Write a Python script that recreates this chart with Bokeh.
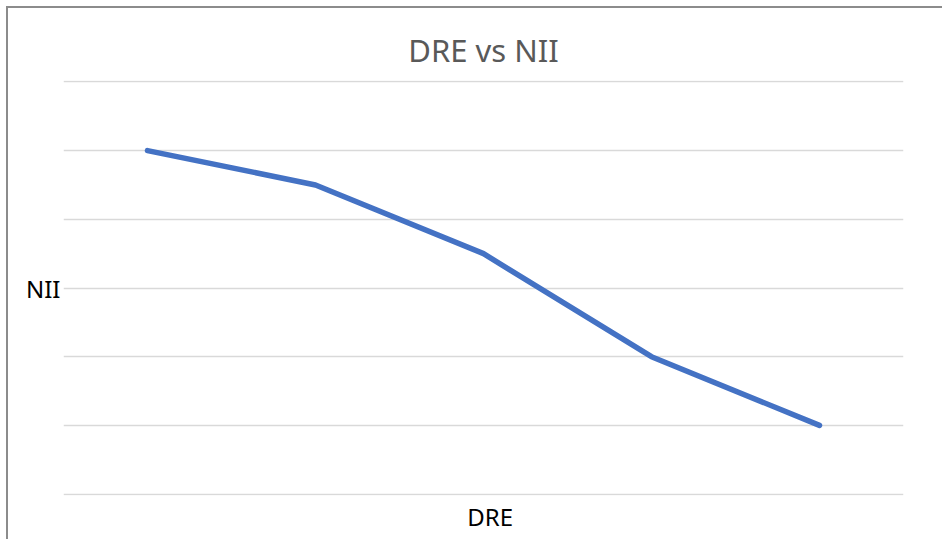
from bokeh.plotting import figure
from bokeh.models import FixedTicker, Range1d
from bokeh.embed import file_html
from bokeh.resources import INLINE

# Data
dre = [1, 2, 3, 4, 5]
nii = [5.0, 4.5, 3.5, 2.0, 1.0]
grid_ticks = [0, 1, 2, 3, 4, 5, 6]
title_text = "DRE vs NII"
x_label = "DRE"
y_label = "NII"

p = figure(width=936, height=533, output_backend="svg", toolbar_location=None,
           x_range=Range1d(0.5, 5.5), y_range=Range1d(-0.02, 6.02))
p.min_border_left = 55
p.min_border_right = 41
p.min_border_top = 72
p.min_border_bottom = 46

font = "Noto Sans"
p.title.text = title_text
p.title.align = "center"
p.title.text_font = font
p.title.text_font_size = "31px"
p.title.text_font_style = "normal"
p.title.text_color = "#595959"
p.title.offset = -5
p.title.standoff = 19

p.xaxis.ticker = FixedTicker(ticks=[3.04])
p.xaxis.major_label_overrides = {3.04: x_label}
p.xaxis.axis_line_color = None
p.xaxis.major_tick_line_color = None
p.xaxis.minor_tick_line_color = None
p.xaxis.major_tick_out = 0
p.xaxis.major_tick_in = 0
p.xaxis.major_label_standoff = 4
p.xaxis.major_label_text_font = font
p.xaxis.major_label_text_font_size = "24px"
p.xaxis.major_label_text_color = "#000000"

p.yaxis.ticker = FixedTicker(ticks=[3])
p.yaxis.major_label_overrides = {3: y_label}
p.yaxis.axis_line_color = None
p.yaxis.major_tick_line_color = None
p.yaxis.minor_tick_line_color = None
p.yaxis.major_tick_out = 0
p.yaxis.major_tick_in = 0
p.yaxis.major_label_standoff = 3
p.yaxis.major_label_text_font = font
p.yaxis.major_label_text_font_size = "24px"
p.yaxis.major_label_text_color = "#000000"

p.xgrid.visible = False
p.ygrid.ticker = FixedTicker(ticks=grid_ticks)
p.ygrid.grid_line_color = "#d9d9d9"
p.ygrid.grid_line_width = 1.5
p.outline_line_color = None
p.background_fill_color = "white"
p.border_fill_color = "white"
p.styles = {"margin-left": "8px", "margin-top": "8px",
            "box-shadow": "-2px -2px 0 0 #8c8c8c"}

p.line(dre, nii, line_color="#4472c4", line_width=5.5, line_cap="round", line_join="round")

open("out.html", "w").write(file_html(p, INLINE))
